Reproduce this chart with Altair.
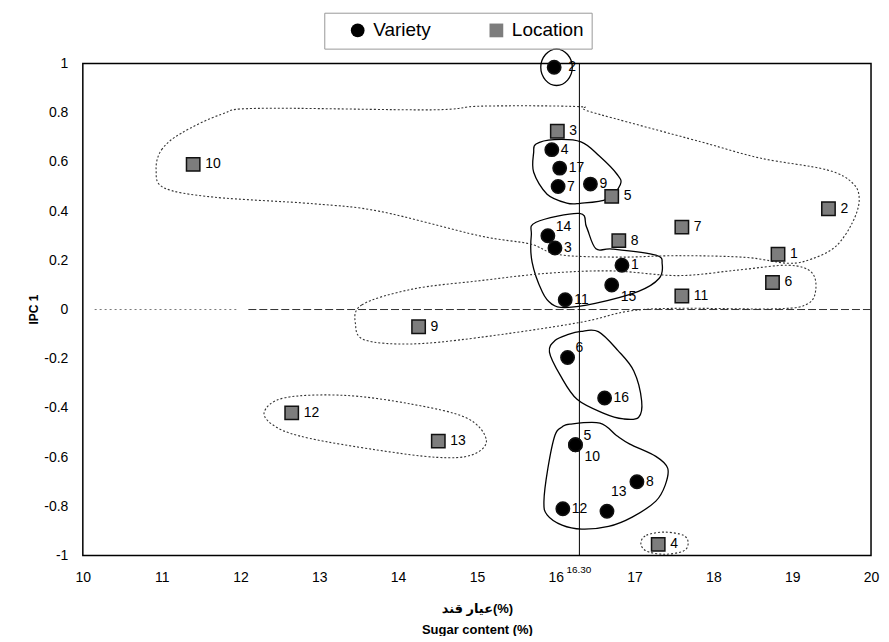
import altair as alt
import pandas as pd

# ---------------- data ----------------
var_labels = [str(i) for i in range(1, 18)]
var_x = [16.84, 15.98, 15.99, 15.95, 16.25, 16.15, 16.03, 17.03, 16.44, 16.25,
         16.12, 16.09, 16.65, 15.90, 16.71, 16.62, 16.05]
var_y = [0.18, 0.985, 0.25, 0.65, -0.55, -0.195, 0.50, -0.70, 0.51, -0.55,
         0.04, -0.81, -0.82, 0.30, 0.10, -0.36, 0.575]

loc_labels = [str(i) for i in range(1, 14)]
loc_x = [18.82, 19.46, 16.02, 17.30, 16.71, 18.75, 17.60, 16.80, 14.26, 11.40,
         17.60, 12.65, 14.51]
loc_y = [0.225, 0.41, 0.725, -0.955, 0.46, 0.11, 0.335, 0.28, -0.07, 0.59,
         0.055, -0.42, -0.535]

x_ticks = [10, 11, 12, 13, 14, 15, 16, 17, 18, 19, 20]
y_ticks = [-1, -0.8, -0.6, -0.4, -0.2, 0, 0.2, 0.4, 0.6, 0.8, 1]
ref_x = 16.30
ref_label = "16.30"

# cluster outlines (solid = variety groups, dotted = location groups)
ring2_x = [16.21, 16.15, 16.01, 15.87, 15.81, 15.87, 16.01, 16.15]
ring2_y = [0.985, 1.037, 1.059, 1.037, 0.985, 0.933, 0.911, 0.933]
clB_x = [15.75, 15.98, 16.32, 16.55, 16.78, 16.82, 16.65, 16.31, 16.14, 15.89, 15.72, 15.72]
clB_y = [0.673, 0.691, 0.682, 0.625, 0.549, 0.508, 0.449, 0.432, 0.433, 0.469, 0.558, 0.639]
clC_x = [15.75, 16.30, 16.39, 16.51, 16.72, 17.27, 17.35, 17.31, 17.05, 16.50, 16.12, 15.95, 15.83, 15.70, 15.69]
clC_y = [0.355, 0.391, 0.336, 0.247, 0.246, 0.221, 0.186, 0.126, 0.074, 0.025, 0.008, 0.022, 0.071, 0.193, 0.302]
clD_x = [16.32, 16.54, 16.79, 16.99, 17.09, 17.05, 16.86, 16.61, 16.27, 16.06, 15.92, 15.99, 16.16]
clD_y = [-0.089, -0.090, -0.167, -0.250, -0.372, -0.439, -0.445, -0.422, -0.365, -0.269, -0.173, -0.126, -0.101]
clE_x = [16.18, 16.56, 16.77, 16.94, 17.27, 17.42, 17.39, 17.27, 16.97, 16.67, 16.33, 16.08, 15.89, 15.85, 15.90, 15.99, 16.08]
clE_y = [-0.466, -0.462, -0.512, -0.547, -0.597, -0.645, -0.713, -0.779, -0.844, -0.882, -0.893, -0.877, -0.835, -0.781, -0.646, -0.511, -0.478]
clF_x = [10.93, 11.00, 11.25, 11.76, 12.23, 14.42, 15.06, 16.29, 16.45, 17.84, 18.59, 19.44, 19.77, 19.85,
         19.76, 19.55, 19.25, 18.95, 18.41, 17.56, 16.80, 16.04, 15.67, 15.03, 13.77, 12.93, 11.66, 11.03]
clF_y = [0.569, 0.650, 0.717, 0.794, 0.818, 0.812, 0.827, 0.825, 0.803, 0.682, 0.616, 0.568, 0.513, 0.444,
         0.351, 0.256, 0.206, 0.188, 0.212, 0.219, 0.213, 0.223, 0.267, 0.300, 0.399, 0.430, 0.457, 0.495]
clG_x = [13.46, 13.54, 14.18, 15.03, 15.88, 16.71, 17.56, 18.32, 18.95, 19.24, 19.30, 19.20, 18.82, 17.55,
         16.92, 16.28, 15.02, 14.17, 13.58]
clG_y = [-0.062, 0.019, 0.083, 0.117, 0.147, 0.157, 0.138, 0.161, 0.180, 0.153, 0.084, 0.024, 0.003, 0.005,
         -0.007, -0.054, -0.114, -0.140, -0.124]
clH_x = [12.30, 12.56, 13.32, 14.16, 14.87, 15.12, 14.93, 14.49, 13.73, 12.88, 12.47]
clH_y = [-0.419, -0.359, -0.349, -0.384, -0.441, -0.532, -0.592, -0.601, -0.571, -0.524, -0.481]
clI_x = [17.08, 17.15, 17.38, 17.62, 17.68, 17.62, 17.38, 17.15]
clI_y = [-0.95, -0.918, -0.905, -0.918, -0.95, -0.982, -0.995, -0.982]

hline_x1 = [10.15, 12.10]
hline_x2 = [11.95, 20.00]
hline_y = [0, 0]

# ---------------- tables ----------------
pts = pd.DataFrame({
    "type": ["Variety"] * len(var_x) + ["Location"] * len(loc_x),
    "label": var_labels + loc_labels,
    "x": var_x + loc_x,
    "y": var_y + loc_y,
})
special = {"5": "ur", "6": "ur", "14": "ur", "10": "lr", "15": "lr", "13": "up", "2": "ring"}
pts["place"] = [("loc" if t == "Location" else special.get(l, "r"))
                for t, l in zip(pts["type"], pts["label"])]

loops = []
for name, xs, ys, sty in [
    ("ring2", ring2_x, ring2_y, "solid"), ("B", clB_x, clB_y, "solid"),
    ("C", clC_x, clC_y, "solid"), ("D", clD_x, clD_y, "solid"),
    ("E", clE_x, clE_y, "solid"), ("F", clF_x, clF_y, "dotted"),
    ("G", clG_x, clG_y, "dotted"), ("H", clH_x, clH_y, "dotted"),
    ("I", clI_x, clI_y, "dotted"),
]:
    for i, (a, b) in enumerate(zip(xs, ys)):
        loops.append({"loop": name, "order": i, "x": a, "y": b, "style": sty})
loops = pd.DataFrame(loops)

hl = pd.DataFrame({"x": hline_x1, "x2": hline_x2, "y": hline_y, "seg": ["a", "b"]})
vl = pd.DataFrame({"x": [ref_x]})
reftxt = pd.DataFrame({"x": [ref_x], "y": [-1], "t": [ref_label]})

FONT = "Liberation Sans, Arial, DejaVu Sans"

X = alt.X("x:Q",
          scale=alt.Scale(domain=[10, 20], nice=False, zero=False),
          axis=alt.Axis(values=x_ticks, grid=False, ticks=False, domain=False,
                        labelPadding=15, labelFontSize=14, labelFont=FONT,
                        labelColor="black", labelFlush=False, labelOverlap=False,
                        title=["عیار قند(%)", "Sugar content (%)"],
                        titleFont=FONT, titleFontSize=13, titleFontWeight="bold",
                        titleColor="black", titlePadding=18, titleLineHeight=21))
Y = alt.Y("y:Q",
          scale=alt.Scale(domain=[-1, 1], nice=False, zero=False),
          axis=alt.Axis(values=y_ticks, grid=False, ticks=False, domain=False,
                        labelExpr="toString(round(datum.value*10)/10)",
                        labelPadding=15, labelFontSize=14, labelFont=FONT,
                        labelColor="black", labelOverlap=False, labelFlush=False,
                        title="IPC 1", titleFont=FONT, titleFontSize=12,
                        titleFontWeight="bold", titleColor="black",
                        titleAngle=270, titleBaseline="bottom", titleAlign="center",
                        titleX=-42, titleY=246))

leg = alt.Legend(title=None, orient="none", legendX=242, legendY=-51,
                 direction="horizontal", columns=2, padding=8,
                 symbolOffset=16, columnPadding=40, labelOffset=6,
                 labelFontSize=19, labelFont=FONT, labelColor="black",
                 symbolSize=190, symbolStrokeColor="black", symbolStrokeWidth=1.2,
                 strokeColor="#999")

base_pts = alt.Chart(pts)

hline_a = alt.Chart(hl).transform_filter(alt.datum.seg == "a").mark_rule(
    color="#777", strokeWidth=1, strokeDash=[2, 3]).encode(x=X, x2="x2:Q", y=Y)
hline_b = alt.Chart(hl).transform_filter(alt.datum.seg == "b").mark_rule(
    color="#333", strokeWidth=1, strokeDash=[8, 3]).encode(x=X, x2="x2:Q", y=Y)
vrule = alt.Chart(vl).mark_rule(color="black", strokeWidth=1).encode(x=X)

solid = alt.Chart(loops).transform_filter(alt.datum.style == "solid").mark_line(
    interpolate="cardinal-closed", color="black", strokeWidth=1.3
).encode(x=X, y=Y, detail="loop:N", order="order:Q")
dotted = alt.Chart(loops).transform_filter(alt.datum.style == "dotted").mark_line(
    interpolate="cardinal-closed", color="#333", strokeWidth=1.1, strokeDash=[2, 2]
).encode(x=X, y=Y, detail="loop:N", order="order:Q")

points = base_pts.mark_point(filled=True, stroke="#111", strokeWidth=1.5, opacity=1).encode(
    x=X, y=Y,
    fill=alt.Fill("type:N", scale=alt.Scale(domain=["Variety", "Location"],
                                           range=["#000000", "#7d7d7d"]), legend=leg),
    shape=alt.Shape("type:N", scale=alt.Scale(domain=["Variety", "Location"],
                                             range=["circle", "square"]), legend=leg),
    size=alt.value(180),
)

offsets = {"r": (9, 0), "ur": (8, -9), "lr": (9, 12), "up": (4, -19),
           "ring": (14, 0), "loc": (12, 0)}
texts = []
for k, (dx, dy) in offsets.items():
    texts.append(base_pts.transform_filter(alt.datum.place == k).mark_text(
        align="left", baseline="middle", dx=dx, dy=dy, fontSize=14, font=FONT,
        color="black").encode(x=X, y=Y, text="label:N"))

ref_text = alt.Chart(reftxt).mark_text(
    align="left", baseline="middle", dx=-13, dy=15, fontSize=10, font=FONT,
    color="black").encode(x=X, y=Y, text="t:N")

chart = alt.layer(hline_a, hline_b, vrule, solid, dotted, points, *texts, ref_text).properties(
    width=790, height=493,
    autosize=alt.AutoSizeParams(type="none"),
    padding={"left": 75, "top": 55, "right": 10, "bottom": 80},
    background="white",
).configure_view(stroke="black", strokeWidth=1.5)

chart.save("out.html", embed_options={"renderer": "svg", "actions": False})
